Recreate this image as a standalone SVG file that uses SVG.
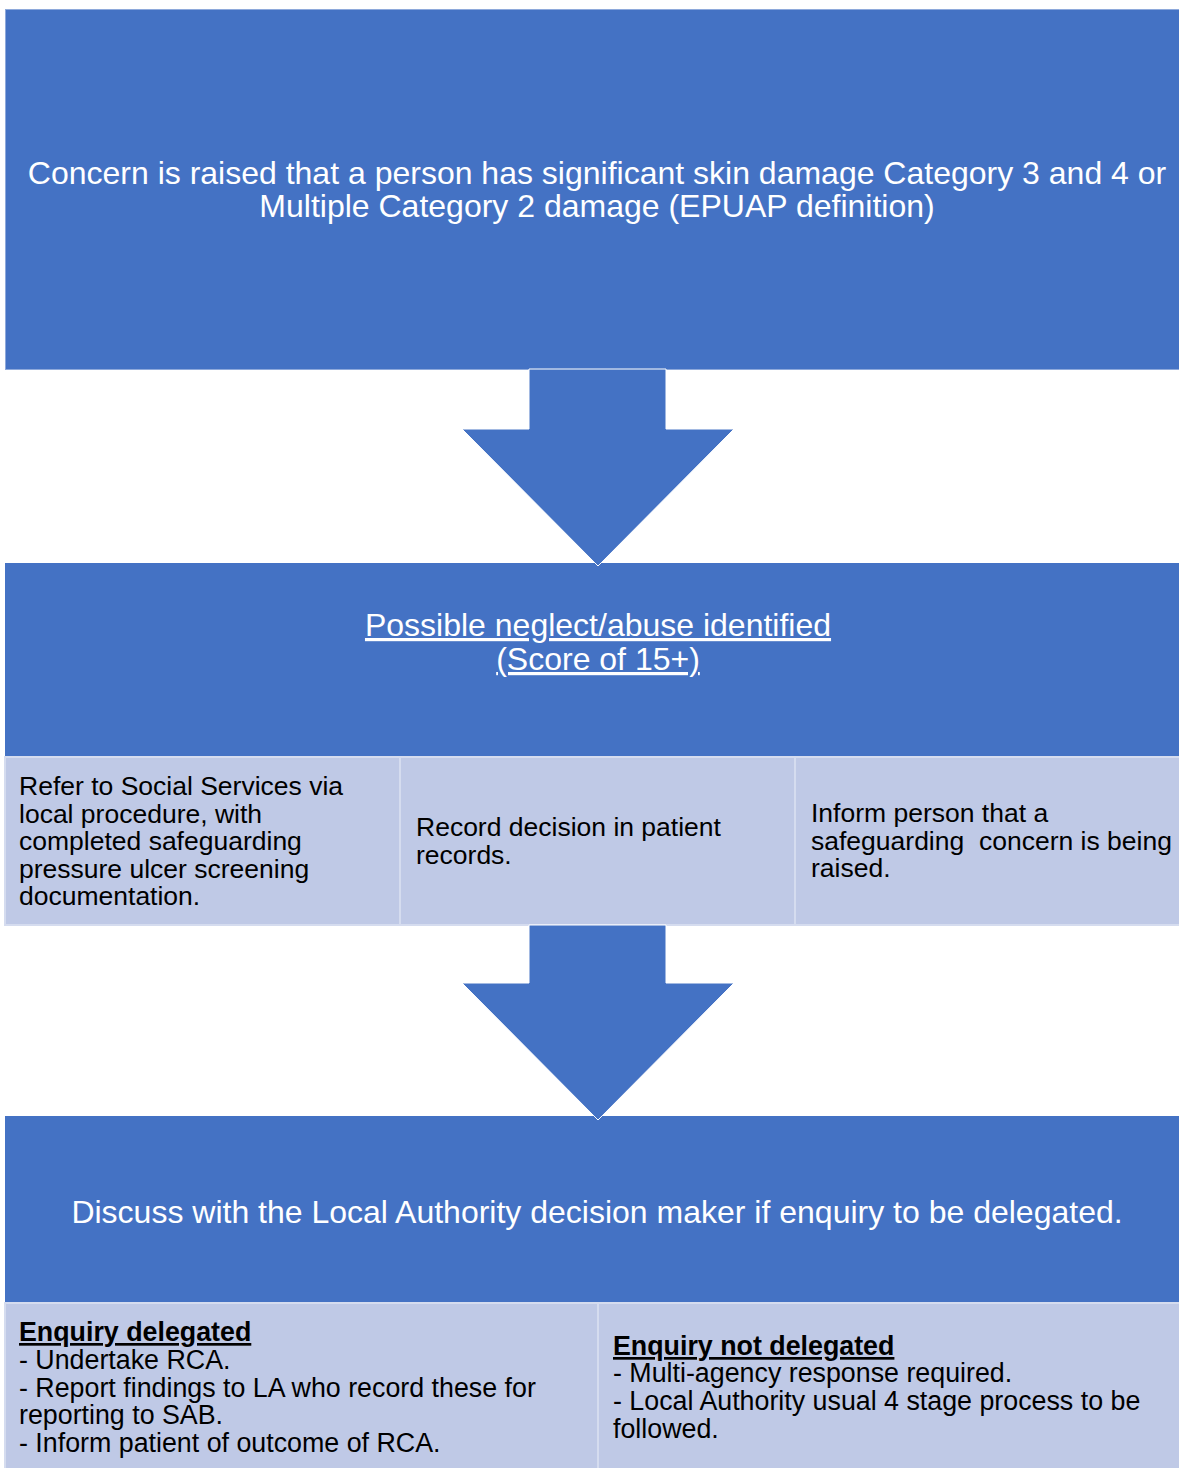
<svg xmlns="http://www.w3.org/2000/svg" width="1179" height="1468" viewBox="0 0 1179 1468">
<style>
.blue{fill:#4472C4;}
.edge{fill:#4472C4;stroke:#8EA9DB;stroke-width:1;}
.cell{fill:#BFC9E6;stroke:#D5DCEF;stroke-width:2;}
.arrow{fill:#4472C4;stroke:#ffffff;stroke-width:1;stroke-linejoin:miter;}
text{font-family:"Liberation Sans",Arial,sans-serif;}
.w{fill:#ffffff;font-size:32px;}
.b{fill:#000000;font-size:26.5px;}
.bb{fill:#000000;font-size:26.8px;}
.u{text-decoration:underline;}
.bold{font-weight:bold;text-decoration:underline;}
</style>
<rect width="1179" height="1468" fill="#ffffff"/>
<g id="node-concern">
  <rect class="edge" x="5.5" y="9.5" width="1174" height="360"/>
  <text class="w" text-anchor="middle" x="597" y="184">Concern is raised that a person has significant skin damage Category 3 and 4 or</text>
  <text class="w" text-anchor="middle" x="597" y="217">Multiple Category 2 damage (EPUAP definition)</text>
</g>
<g id="node-neglect">
  <rect class="blue" x="5" y="563" width="1174" height="194"/>
  <text class="w u" text-anchor="middle" x="598" y="636">Possible neglect/abuse identified</text>
  <text class="w u" text-anchor="middle" x="598" y="670">(Score of 15+)</text>
</g>
<g id="node-refer">
  <rect class="cell" x="5" y="757" width="395" height="168"/>
  <text class="b" x="19" y="795">Refer to Social Services via</text>
  <text class="b" x="19" y="823">local procedure, with</text>
  <text class="b" x="19" y="850">completed safeguarding</text>
  <text class="b" x="19" y="878">pressure ulcer screening</text>
  <text class="b" x="19" y="905">documentation.</text>
</g>
<g id="node-record">
  <rect class="cell" x="400" y="757" width="395" height="168"/>
  <text class="b" x="416" y="836">Record decision in patient</text>
  <text class="b" x="416" y="864">records.</text>
</g>
<g id="node-inform">
  <rect class="cell" x="795" y="757" width="386" height="168"/>
  <text class="b" x="811" y="822">Inform person that a</text>
  <text class="b" x="811" y="850" xml:space="preserve">safeguarding  concern is being</text>
  <text class="b" x="811" y="877">raised.</text>
</g>
<g id="node-discuss">
  <rect class="blue" x="5" y="1116" width="1174" height="187"/>
  <text class="w" text-anchor="middle" x="597" y="1223">Discuss with the Local Authority decision maker if enquiry to be delegated.</text>
</g>
<g id="node-delegated">
  <rect class="cell" x="5" y="1303" width="593" height="167"/>
  <text class="bb bold" x="19" y="1341">Enquiry delegated</text>
  <text class="bb" x="19" y="1369">- Undertake RCA.</text>
  <text class="bb" x="19" y="1397">- Report findings to LA who record these for</text>
  <text class="bb" x="19" y="1424">reporting to SAB.</text>
  <text class="bb" x="19" y="1452">- Inform patient of outcome of RCA.</text>
</g>
<g id="node-not-delegated">
  <rect class="cell" x="598" y="1303" width="583" height="167"/>
  <text class="bb bold" x="613" y="1355">Enquiry not delegated</text>
  <text class="bb" x="613" y="1382">- Multi-agency response required.</text>
  <text class="bb" x="613" y="1410">- Local Authority usual 4 stage process to be</text>
  <text class="bb" x="613" y="1438">followed.</text>
</g>
<g id="connectors">
  <polygon class="arrow" points="529,369 666,369 666,429 734,429 598,566 462,429 529,429"/>
  <polygon class="arrow" points="529,925 666,925 666,983 734,983 598,1120 462,983 529,983"/>
</g>
</svg>
